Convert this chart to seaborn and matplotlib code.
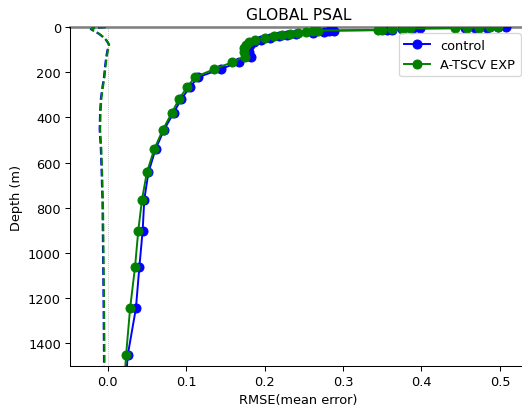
import matplotlib
matplotlib.use("Agg")
import matplotlib.pyplot as plt
import seaborn as sns
import pandas as pd

# Model vertical levels (m)
depth = [0.494, 1.541, 2.646, 3.819, 5.078, 6.441, 7.930, 9.573, 11.405, 13.467,
         15.810, 18.496, 21.599, 25.211, 29.445, 34.434, 40.344, 47.374, 55.764, 65.807,
         77.854, 92.326, 109.729, 130.666, 155.851, 186.126, 222.475, 266.040, 318.127, 380.213,
         453.938, 541.089, 643.567, 763.333, 902.339, 1062.44, 1245.29, 1452.25, 1684.28]

# RMSE profiles of salinity
rmse_control = [0.508, 0.497, 0.483, 0.468, 0.455, 0.398, 0.388, 0.375, 0.362, 0.356,
                0.288, 0.282, 0.276, 0.262, 0.240, 0.229, 0.219, 0.207, 0.195, 0.186,
                0.181, 0.179, 0.180, 0.183, 0.167, 0.144, 0.115, 0.105, 0.094, 0.084,
                0.072, 0.061, 0.052, 0.0467, 0.0446, 0.0404, 0.036, 0.0256, 0.021]
rmse_exp = [0.497, 0.487, 0.473, 0.458, 0.443, 0.385, 0.376, 0.363, 0.350, 0.345,
            0.268, 0.262, 0.253, 0.243, 0.232, 0.222, 0.212, 0.200, 0.188, 0.180,
            0.176, 0.174, 0.174, 0.175, 0.159, 0.136, 0.111, 0.1015, 0.091, 0.0818,
            0.0704, 0.0594, 0.050, 0.0438, 0.039, 0.0349, 0.0286, 0.0235, 0.019]

# Mean error (bias) profiles
bias_control = [-0.0025, -0.0065, -0.0105, -0.0145, -0.0175, -0.0195, -0.0205, -0.0215, -0.0205, -0.0195,
                -0.0185, -0.0165, -0.0155, -0.0135, -0.0115, -0.0095, -0.0075, -0.0045, -0.0025, -0.0005,
                0.0015, 0.0005, -0.0007, -0.0017, -0.0027, -0.0037, -0.0047, -0.0067, -0.0087, -0.0097,
                -0.0102, -0.0087, -0.0077, -0.0067, -0.0062, -0.0057, -0.0052, -0.0047, -0.0047]
bias_exp = [-0.002, -0.006, -0.010, -0.014, -0.017, -0.019, -0.020, -0.021, -0.020, -0.019,
            -0.018, -0.016, -0.015, -0.013, -0.011, -0.009, -0.007, -0.004, -0.002, 0.000,
            0.002, 0.001, -0.000, -0.001, -0.002, -0.003, -0.004, -0.006, -0.008, -0.009,
            -0.0095, -0.008, -0.007, -0.006, -0.0055, -0.005, -0.0045, -0.004, -0.004]

df = pd.DataFrame({"depth": depth,
                   "rmse_control": rmse_control, "rmse_exp": rmse_exp,
                   "bias_control": bias_control, "bias_exp": bias_exp})

DPI = 93
fig = plt.figure(figsize=(522 / DPI, 407 / DPI), dpi=DPI)
ax = fig.add_axes([70 / 522, 1 - 367 / 407, 457 / 522, 339 / 407])

sns.lineplot(data=df, x="rmse_control", y="depth", orient="y", ax=ax,
             color="blue", marker="o", markersize=7, markeredgecolor="blue",
             linewidth=1.5, label="control")
sns.lineplot(data=df, x="rmse_exp", y="depth", orient="y", ax=ax,
             color="green", marker="o", markersize=7, markeredgecolor="green",
             linewidth=1.5, label="A-TSCV EXP")
sns.lineplot(data=df, x="bias_control", y="depth", orient="y", ax=ax,
             color="blue", linestyle="--", linewidth=1.6)
sns.lineplot(data=df, x="bias_exp", y="depth", orient="y", ax=ax,
             color="green", linestyle="--", linewidth=1.6)

ax.axvline(0, color="gray", linestyle=":", linewidth=0.6, alpha=0.7, zorder=1)
ax.spines["top"].set_visible(False)
ax.axhline(0, color="gray", linewidth=2, clip_on=False, zorder=1.5)

ax.set_ylim(1500, 0)
ax.set_title("GLOBAL PSAL")
ax.set_xlabel("RMSE(mean error)")
ax.set_ylabel("Depth (m)")
ax.legend(loc="upper right")

fig.savefig("out.png", dpi=DPI)
